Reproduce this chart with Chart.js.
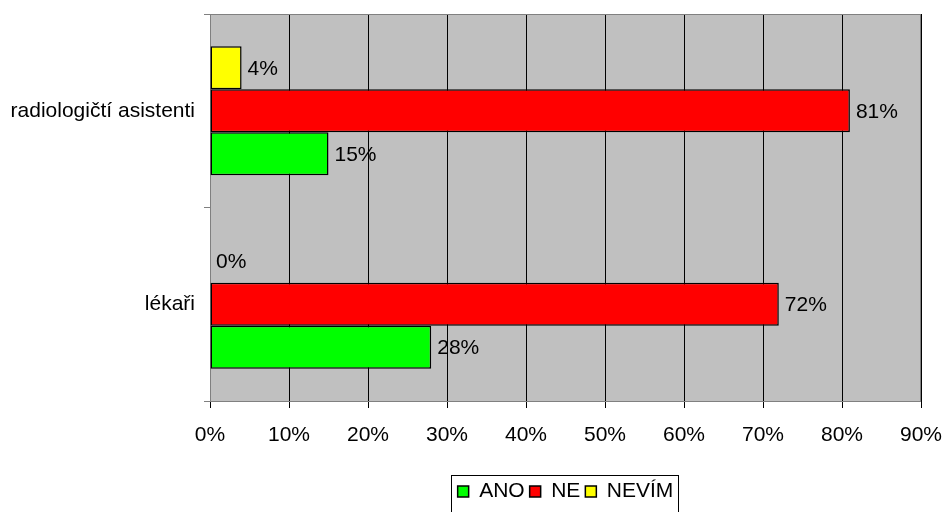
<!DOCTYPE html>
<html>
<head>
<meta charset="utf-8">
<title>ANO / NE / NEVÍM</title>
<script src="https://cdn.jsdelivr.net/npm/chart.js@4/dist/chart.umd.min.js"></script>
<style>
    body { margin: 0; background: #fff; }
    #wrap { width: 944px; height: 512px; position: relative; }
</style>
</head>
<body>
<div id="wrap"><canvas id="answersChart"></canvas></div>
<script>
// Categories (top to bottom) and answer shares in percent
const groups = ['radiologičtí asistenti', 'lékaři'];
const ano = [15, 28];
const ne = [81, 72];
const nevim = [4, 0];
const xTicks = [0, 10, 20, 30, 40, 50, 60, 70, 80, 90];

const FONT = "'Liberation Sans', Arial, sans-serif";

// Gray plot area with a thin gray frame, drawn under the bars
const plotBackground = {
    id: 'plotBackground',
    beforeDraw(chart) {
        const { ctx, chartArea: a } = chart;
        ctx.save();
        ctx.fillStyle = '#c0c0c0';
        ctx.fillRect(a.left, a.top, a.right - a.left, a.bottom - a.top);
        ctx.restore();
    },
    beforeDatasetsDraw(chart) {
        const { ctx, chartArea: a } = chart;
        ctx.save();
        ctx.strokeStyle = '#808080';
        ctx.lineWidth = 1;
        ctx.strokeRect(a.left + 0.5, a.top + 0.5, a.right - a.left - 1, a.bottom - a.top);
        ctx.restore();
    }
};

// Percent labels to the right of every bar
const valueLabels = {
    id: 'valueLabels',
    afterDatasetsDraw(chart) {
        const ctx = chart.ctx;
        ctx.save();
        ctx.font = '21px ' + FONT;
        ctx.fillStyle = '#000';
        ctx.textAlign = 'left';
        ctx.textBaseline = 'middle';
        chart.data.datasets.forEach((ds, i) => {
            chart.getDatasetMeta(i).data.forEach((bar, j) => {
                ctx.fillText(ds.data[j] + '%', bar.x + 6, bar.y + 1);
            });
        });
        ctx.restore();
    }
};

// Box around the legend row
const legendFrame = {
    id: 'legendFrame',
    afterDraw(chart) {
        const boxes = chart.legend && chart.legend.legendHitBoxes;
        if (!boxes || !boxes.length) return;
        const left = Math.min(...boxes.map(b => b.left)) - 7;
        const right = Math.max(...boxes.map(b => b.left + b.width)) + 4;
        const top = boxes[0].top - 6;
        const ctx = chart.ctx;
        ctx.save();
        ctx.strokeStyle = '#000';
        ctx.lineWidth = 1;
        ctx.strokeRect(Math.round(left) + 0.5, Math.round(top) + 0.5, Math.round(right - left), 60);
        ctx.restore();
    }
};

const ctx = document.getElementById('answersChart').getContext('2d');

new Chart(ctx, {
    type: 'bar',
    data: {
        labels: groups,
        datasets: [
            { label: 'NEVÍM', data: nevim, backgroundColor: '#ffff00' },
            { label: 'NE', data: ne, backgroundColor: '#ff0000' },
            { label: 'ANO', data: ano, backgroundColor: '#00ff00' }
        ].map(d => Object.assign(d, {
            borderColor: '#000',
            borderWidth: 1.5,
            borderSkipped: false,
            categoryPercentage: 0.667,
            barPercentage: 1
        }))
    },
    options: {
        indexAxis: 'y',
        responsive: true,
        maintainAspectRatio: false,
        animation: false,
        layout: { padding: { top: 14, right: 23, left: 0, bottom: 0 } },
        scales: {
            x: {
                min: 0,
                max: 90,
                afterBuildTicks: scale => {
                    scale.ticks = xTicks.map(v => ({ value: v }));
                },
                afterFit: scale => {
                    scale.height = 75;
                    scale.paddingLeft = 0;
                    scale.paddingRight = 0;
                },
                border: { display: false },
                grid: {
                    color: '#000',
                    lineWidth: 1,
                    drawTicks: true,
                    tickLength: 7,
                    tickColor: '#000'
                },
                ticks: {
                    padding: 15,
                    color: '#000',
                    font: { family: FONT, size: 21 },
                    callback: v => v + '%'
                }
            },
            y: {
                afterFit: scale => {
                    scale.width = 210;
                    scale.paddingTop = 0;
                    scale.paddingBottom = 0;
                },
                border: { display: false },
                grid: {
                    offset: true,
                    drawOnChartArea: false,
                    drawTicks: true,
                    tickLength: 6,
                    tickColor: '#808080'
                },
                ticks: {
                    padding: 9,
                    color: '#000',
                    font: { family: FONT, size: 21 }
                }
            }
        },
        plugins: {
            legend: {
                position: 'bottom',
                fullSize: false,
                reverse: true,
                labels: {
                    color: '#000',
                    font: { family: FONT, size: 21 },
                    boxWidth: 11,
                    boxHeight: 11,
                    padding: 5
                }
            },
            tooltip: { enabled: false }
        }
    },
    plugins: [plotBackground, valueLabels, legendFrame]
});
</script>
</body>
</html>
